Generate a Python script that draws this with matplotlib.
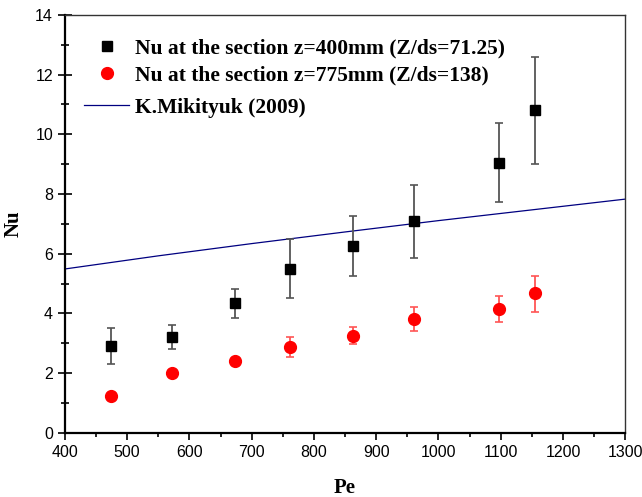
import numpy as np
import matplotlib
matplotlib.use("Agg")
import matplotlib.pyplot as plt
from matplotlib.ticker import MultipleLocator

# data
pe_sq = [474, 572, 673, 761, 862, 960, 1097, 1155]
nu_sq = [2.91, 3.21, 4.35, 5.49, 6.26, 7.10, 9.05, 10.82]
nu_sq_hi = [3.52, 3.62, 4.83, 6.50, 7.25, 8.29, 10.38, 12.60]
nu_sq_lo = [2.31, 2.81, 3.85, 4.51, 5.27, 5.85, 7.73, 9.00]

pe_ci = [474, 572, 673, 761, 862, 960, 1097, 1155]
nu_ci = [1.24, 2.02, 2.40, 2.88, 3.26, 3.82, 4.14, 4.67]
nu_ci_hi = [1.24, 2.02, 2.50, 3.20, 3.54, 4.20, 4.58, 5.26]
nu_ci_lo = [1.24, 2.02, 2.30, 2.54, 2.97, 3.42, 3.72, 4.05]

pe_mik = [400, 550, 700, 850, 1000, 1150, 1300]
nu_mik = [5.49, 5.93, 6.34, 6.73, 7.11, 7.47, 7.83]

labels = ["Nu at the section z=400mm (Z/ds=71.25)",
          "Nu at the section z=775mm (Z/ds=138)",
          "K.Mikityuk (2009)"]

serif = "Liberation Serif"
sans = "Liberation Sans"

fig = plt.figure(figsize=(6.42, 4.97), dpi=100)
ax = fig.add_axes([0.101, 0.129, 0.873, 0.841])

err_sq = [np.array(nu_sq) - np.array(nu_sq_lo), np.array(nu_sq_hi) - np.array(nu_sq)]
err_ci = [np.array(nu_ci) - np.array(nu_ci_lo), np.array(nu_ci_hi) - np.array(nu_ci)]

ax.errorbar(pe_sq, nu_sq, yerr=err_sq, fmt="none", ecolor="#555555",
            elinewidth=1.3, capsize=3, capthick=1.2, zorder=2)
sq, = ax.plot(pe_sq, nu_sq, "s", color="black", markersize=7.5, zorder=3)
ax.errorbar(pe_ci, nu_ci, yerr=err_ci, fmt="none", ecolor="#ff5555",
            elinewidth=1.3, capsize=3, capthick=1.2, zorder=2)
ci, = ax.plot(pe_ci, nu_ci, "o", color="red", markersize=8.5, zorder=3)
ln, = ax.plot(pe_mik, nu_mik, "-", color="#000080", linewidth=0.9, zorder=1)

ax.set_xlim(400, 1300)
ax.set_ylim(0, 14)
ax.xaxis.set_major_locator(MultipleLocator(100))
ax.xaxis.set_minor_locator(MultipleLocator(50))
ax.yaxis.set_major_locator(MultipleLocator(2))
ax.yaxis.set_minor_locator(MultipleLocator(1))

ax.tick_params(axis="x", which="major", direction="out", length=5, width=1.2,
               labelsize=11.5, top=False)
ax.tick_params(axis="x", which="minor", direction="out", length=3, width=1.2, top=False)
ax.tick_params(axis="y", which="major", direction="inout", length=10, width=1.2,
               labelsize=11.5, right=False)
ax.tick_params(axis="y", which="minor", direction="inout", length=6, width=1.2, right=False)
for lab in ax.get_xticklabels() + ax.get_yticklabels():
    lab.set_fontfamily(sans)

ax.spines["bottom"].set_linewidth(1.6)
ax.spines["left"].set_linewidth(1.6)
ax.spines["top"].set_linewidth(1.0)
ax.spines["right"].set_linewidth(1.0)
ax.spines["top"].set_color("#333333")
ax.spines["right"].set_color("#333333")

ax.set_xlabel("Pe", fontfamily=serif, fontweight="bold", fontsize=15, labelpad=13)
ax.set_ylabel("Nu", fontfamily=serif, fontweight="bold", fontsize=15, labelpad=8)

legend_font = {"family": serif, "weight": "bold", "size": 15.5}
leg1 = ax.legend([sq, ci], labels[:2], loc="center left", bbox_to_anchor=(0.034, 0.887),
                 frameon=False, handlelength=2.1, handletextpad=0.28, labelspacing=0.3,
                 borderpad=0, borderaxespad=0, prop=legend_font)
ax.add_artist(leg1)
ax.legend([ln], labels[2:], loc="center left", bbox_to_anchor=(0.034, 0.7775),
          frameon=False, handlelength=2.1, handletextpad=0.28,
          borderpad=0, borderaxespad=0, prop=legend_font)

fig.savefig("out.png", dpi=100)
